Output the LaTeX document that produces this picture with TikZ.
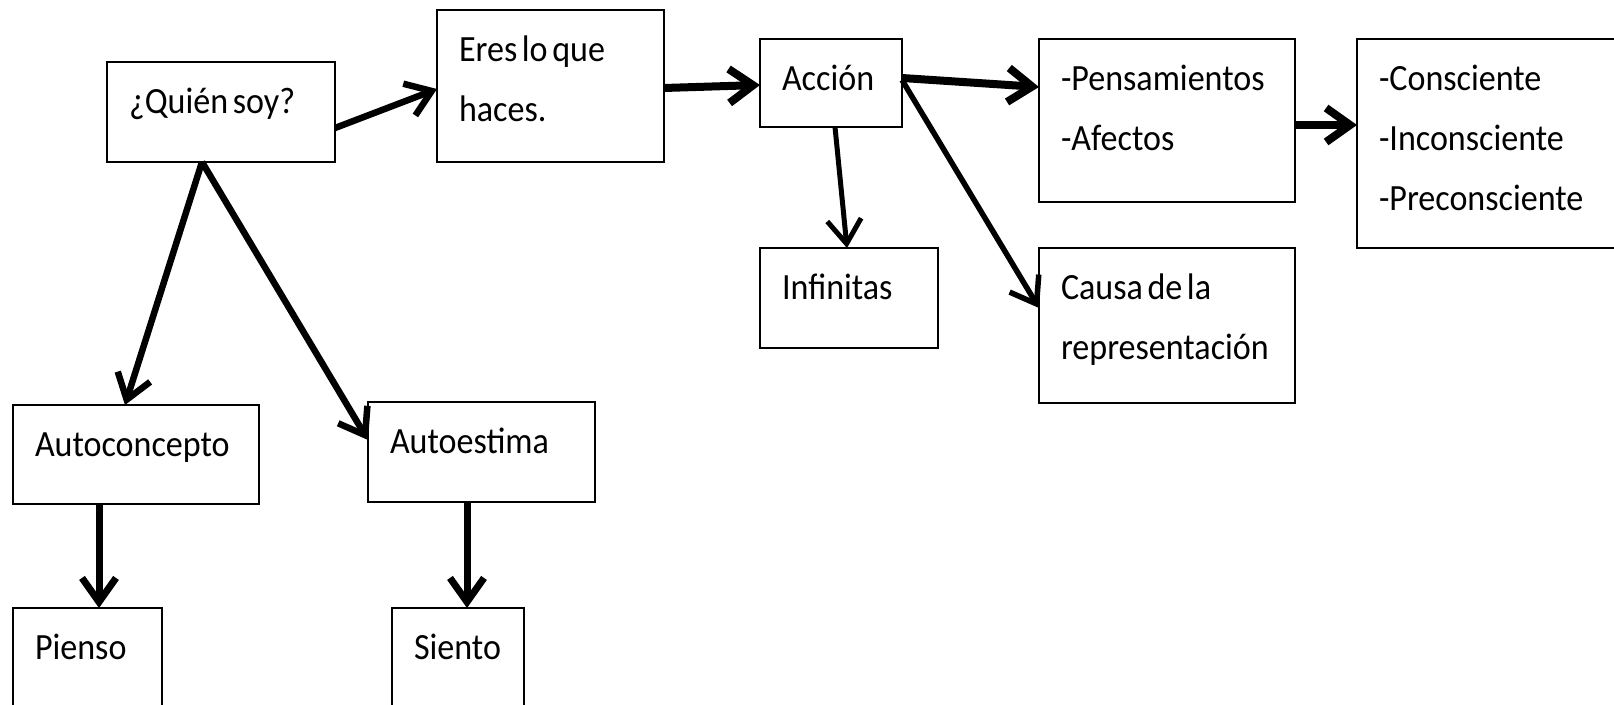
\documentclass[tikz,border=0pt]{standalone}
\usepackage{fontspec}
\setmainfont{Carlito}[FakeStretch=0.92, WordSpace=0.6]
\usetikzlibrary{arrows.meta,calc}

\tikzset{
  caja/.style 2 args={draw, line width=2pt, anchor=north west, align=flush left, outer sep=0pt,
    inner xsep=22pt, inner ysep=0pt, text width=#1, text height=51pt, text depth=#2,
    font=\fontsize{37}{60}\selectfont},
  flecha/.style={line width=6.5pt, -{Straight Barb[length=24pt,width=34pt]}}
}

\begin{document}
\begin{tikzpicture}[x=1pt, y=-1pt]
\useasboundingbox (0,0) rectangle (1614,704);

\node[caja={184pt}{49pt}] (quien) at (107,62) {¿Quién soy?};
\node[caja={183pt}{101pt}] (eres) at (437,10) {Eres lo que\\haces.};
\node[caja={98pt}{37pt}] (accion) at (760,39) {Acción};
\node[caja={212pt}{112pt}] (pens) at (1039,39) {-Pensamientos\\-Afectos};
\node[caja={236pt}{158pt}] (consc) at (1357,39) {-Consciente\\-Inconsciente\\-Preconsciente};
\node[caja={134pt}{49pt}] (infin) at (760,248) {Infinitas};
\node[caja={212pt}{104pt}] (causa) at (1039,248) {Causa de la\\representación};
\node[caja={202pt}{48pt}] (autoc) at (13,405) {Autoconcepto};
\node[caja={183pt}{49pt}] (autoe) at (368,402) {Autoestima};
\node[caja={105pt}{79pt}] (pienso) at (13,608) {Pienso};
\node[caja={88pt}{79pt}] (siento) at (392,608) {Siento};

\draw[flecha] ([yshift=-16pt]quien.east) -- ([yshift=-3pt]eres.west);
\draw[flecha, line width=8pt] ([yshift=-2pt]eres.east) -- ([yshift=-2pt]accion.west);
\draw[flecha, line width=8pt] ([yshift=5pt]accion.east) -- ([yshift=-48pt]pens.north west);
\draw[flecha, line width=8pt] ([yshift=-86pt]pens.north east) -- ([yshift=-86pt]consc.north west);
\draw[flecha, line width=5pt] ([xshift=4pt]accion.south) -- ([xshift=-2pt]infin.north);
\draw[flecha, line width=5.5pt] ([yshift=3pt]accion.east) -- ([yshift=-60pt]causa.north west);
\draw[flecha] ([xshift=-19pt]quien.south) -- ([xshift=-11pt]autoc.north);
\draw[flecha] ([xshift=-19pt]quien.south) -- ([yshift=-38pt]autoe.north west);
\draw[flecha, line width=7pt] ([xshift=86pt]autoc.south west) -- ([xshift=86pt]pienso.north west);
\draw[flecha, line width=7pt] ([xshift=99pt]autoe.south west) -- ([xshift=75pt]siento.north west);

\end{tikzpicture}
\end{document}
